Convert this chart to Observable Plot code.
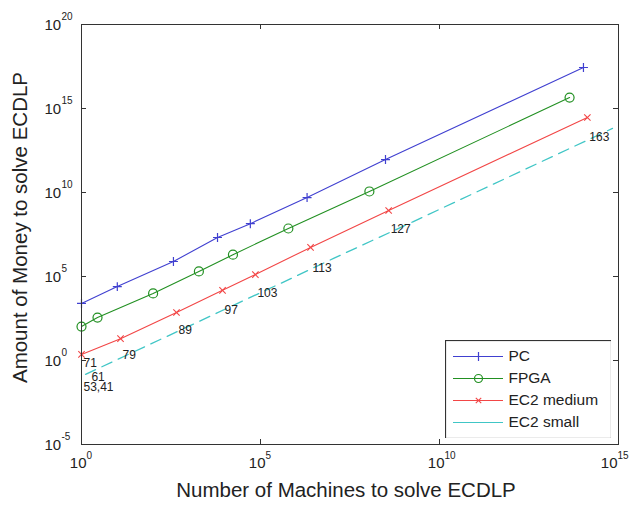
<!DOCTYPE html>
<html>
<head>
<meta charset="utf-8">
<script src="https://cdn.jsdelivr.net/npm/d3@7"></script>
<script src="https://cdn.jsdelivr.net/npm/@observablehq/plot@0.6"></script>
<style>
  body { margin: 0; background: #fff; }
  #wrap { position: relative; width: 630px; height: 510px; font-family: "Liberation Sans", Arial, sans-serif; }
  #wrap svg { display: block; }
  #legend { position: absolute; left: 445px; top: 340px; }
</style>
</head>
<body>
<div id="wrap"><div id="chart"></div><div id="legend"></div></div>
<script>
// ---- data ----
const keySizes = [71, 79, 89, 97, 103, 113, 127, 163];

const pcMachines   = [1, 1.0e1, 3.7e2, 6.3e3, 5.2e4, 2.0e6, 3.1e8, 1.05e14];
const pcMoney      = [2.5e3, 2.5e4, 7.8e5, 2.1e7, 1.4e8, 5.0e9, 9.1e11, 2.75e17];

const fpgaMachines = [1, 2.8, 1.0e2, 1.9e3, 1.7e4, 6.0e5, 1.1e8, 4.3e13];
const fpgaMoney    = [1.05e2, 3.6e2, 9.8e3, 2.0e5, 2.0e6, 7.2e7, 1.15e10, 4.5e15];

const ec2mMachines = [1, 12.3, 4.5e2, 8.7e3, 7.2e4, 2.5e6, 3.8e8, 1.35e14];
const ec2mMoney    = [2.3, 20, 7.2e2, 1.5e4, 1.3e5, 5.4e6, 8.5e8, 2.9e14];

const ec2sMachines = [1.3, 56, 2.0e3, 4.0e4, 3.2e5, 1.1e7, 1.8e9, 6.8e14];
const ec2sMoney    = [0.15, 6.3, 2.2e2, 4.4e3, 3.4e4, 1.2e6, 1.8e8, 6.5e13];

// key-size annotations along the EC2 small line
const labelText = ["53,41", "61", "71", "79", "89", "97", "103", "113", "127", "163"];
const labelX    = [1, 1.66, 1, 12.3, 4.5e2, 8.7e3, 7.2e4, 2.5e6, 3.8e8, 1.35e14];
const labelY    = [0.025, 0.098, 0.66, 2.0, 62, 955, 9.8e3, 3.0e5, 6.3e7, 1.9e13];

const xTicks = [1e0, 1e5, 1e10, 1e15];
const xTickExp = ["0", "5", "10", "15"];
const yTicks = [1e-5, 1e0, 1e5, 1e10, 1e15, 1e20];
const yTickExp = ["-5", "0", "5", "10", "15", "20"];

const seriesNames = ["PC", "FPGA", "EC2 medium", "EC2 small"];
const seriesColors = ["#4040d0", "#229022", "#f24646", "#40c6c6"];

// ---- build tables ----
const toRows = (xs, ys) => xs.map((x, i) => ({x, y: ys[i], key: keySizes[i]}));
const pc = toRows(pcMachines, pcMoney);
const fpga = toRows(fpgaMachines, fpgaMoney);
const ec2m = toRows(ec2mMachines, ec2mMoney);
const ec2s = toRows(ec2sMachines, ec2sMoney);
const labels = labelText.map((t, i) => ({t, x: labelX[i], y: labelY[i]}));
const xTickRows = xTicks.map((v, i) => ({v, e: xTickExp[i], last: i === xTicks.length - 1}));
const yTickRows = yTicks.map((v, i) => ({v, e: yTickExp[i]}));

const W = 630, H = 510, mL = 81, mR = 12, mT = 24, mB = 66;
const fw = W - mL - mR, fh = H - mT - mB;
const axisColor = "#333";
const font = "'Liberation Sans', Arial, sans-serif";

const chart = Plot.plot({
  width: W, height: H,
  marginLeft: mL, marginRight: mR, marginTop: mT, marginBottom: mB,
  x: {type: "log", domain: [1, 1e15], axis: null},
  y: {type: "log", domain: [1e-5, 1e20], axis: null},
  style: {fontFamily: font, background: "#fff", color: "#222"},
  marks: [
    // inward ticks on all four sides
    Plot.ruleX(xTicks, {x: d => d, insetTop: fh - 5, stroke: axisColor}),
    Plot.ruleX(xTicks, {x: d => d, insetBottom: fh - 5, stroke: axisColor}),
    Plot.ruleY(yTicks, {y: d => d, insetRight: fw - 5, stroke: axisColor}),
    Plot.ruleY(yTicks, {y: d => d, insetLeft: fw - 5, stroke: axisColor}),
    // series
    Plot.line(pc,   {x: "x", y: "y", stroke: seriesColors[0], strokeWidth: 1.1}),
    Plot.dot(pc,    {x: "x", y: "y", symbol: "plus", r: 3.0, stroke: seriesColors[0], strokeWidth: 1.2}),
    Plot.line(fpga, {x: "x", y: "y", stroke: seriesColors[1], strokeWidth: 1.1}),
    Plot.dot(fpga,  {x: "x", y: "y", symbol: "circle", r: 4.5, stroke: seriesColors[1], fill: "none", strokeWidth: 1.2}),
    Plot.line(ec2m, {x: "x", y: "y", stroke: seriesColors[2], strokeWidth: 1.1}),
    Plot.dot(ec2m,  {x: "x", y: "y", symbol: "times", r: 3.0, stroke: seriesColors[2], strokeWidth: 1.1}),
    Plot.line(ec2s, {x: "x", y: "y", stroke: seriesColors[3], strokeWidth: 1.3, strokeDasharray: "11,7"}),
    // key-size labels
    Plot.text(labels, {x: "x", y: "y", text: "t", textAnchor: "start", dx: 2, fontSize: 12, fill: "#222"}),
    // frame
    Plot.frame({stroke: axisColor, strokeWidth: 1}),
    // x tick labels 10^n
    Plot.text(xTickRows.filter(d => !d.last), {x: "v", text: () => "10", frameAnchor: "bottom", textAnchor: "end", dx: 5, dy: 23, fontSize: 15, fill: "#222"}),
    Plot.text(xTickRows.filter(d => !d.last), {x: "v", text: "e", frameAnchor: "bottom", textAnchor: "start", dx: 5, dy: 14, fontSize: 10, fill: "#222"}),
    Plot.text(xTickRows.filter(d => d.last), {x: "v", text: () => "10", frameAnchor: "bottom", textAnchor: "end", dx: -1, dy: 23, fontSize: 15, fill: "#222"}),
    Plot.text(xTickRows.filter(d => d.last), {x: "v", text: "e", frameAnchor: "bottom", textAnchor: "start", dx: -1, dy: 14, fontSize: 10, fill: "#222"}),
    // y tick labels 10^n
    Plot.text(yTickRows, {y: "v", text: () => "10", frameAnchor: "left", textAnchor: "start", dx: -37, dy: 1, fontSize: 15, fill: "#222"}),
    Plot.text(yTickRows, {y: "v", text: "e", frameAnchor: "left", textAnchor: "start", dx: -20, dy: -8, fontSize: 10, fill: "#222"}),
    // axis titles
    Plot.text(["Number of Machines to solve ECDLP"], {text: d => d, frameAnchor: "bottom", textAnchor: "middle", dx: -4, dy: 52, fontSize: 20.5, fill: "#222"}),
    Plot.text(["Amount of Money to solve ECDLP"], {text: d => d, frameAnchor: "left", textAnchor: "middle", rotate: -90, dx: -61, dy: -7, fontSize: 20.5, fill: "#222"})
  ]
});
document.getElementById("chart").appendChild(chart);

// ---- legend (small Plot chart placed over the axes) ----
const legendRows = seriesNames.map((name, i) => ({name, color: seriesColors[i]}));
const legend = Plot.plot({
  width: 166, height: 98, margin: 0,
  x: {domain: [0, 166], range: [0, 166], axis: null},
  y: {type: "band", domain: seriesNames, range: [2.5, 94.5], axis: null},
  color: {type: "identity"},
  style: {fontFamily: font, background: "#fff", color: "#222"},
  marks: [
    Plot.ruleY(legendRows, {y: "name", x1: 8, x2: 58, stroke: "color", strokeWidth: 1.2,
      strokeDasharray: d => d.name === "EC2 small" ? "11,7" : null}),
    Plot.dot(legendRows.filter(d => d.name === "PC"), {y: "name", x: 33, symbol: "plus", r: 3.0, stroke: "color", strokeWidth: 1.2}),
    Plot.dot(legendRows.filter(d => d.name === "FPGA"), {y: "name", x: 33, symbol: "circle", r: 4.0, stroke: "color", fill: "none", strokeWidth: 1.2}),
    Plot.dot(legendRows.filter(d => d.name === "EC2 medium"), {y: "name", x: 33, symbol: "times", r: 2.6, stroke: "color", strokeWidth: 1.1}),
    Plot.text(legendRows, {y: "name", x: 63, text: "name", textAnchor: "start", fontSize: 15.5, fill: "#222"}),
    Plot.frame({stroke: axisColor, strokeWidth: 1.2})
  ]
});
document.getElementById("legend").appendChild(legend);
</script>
</body>
</html>
